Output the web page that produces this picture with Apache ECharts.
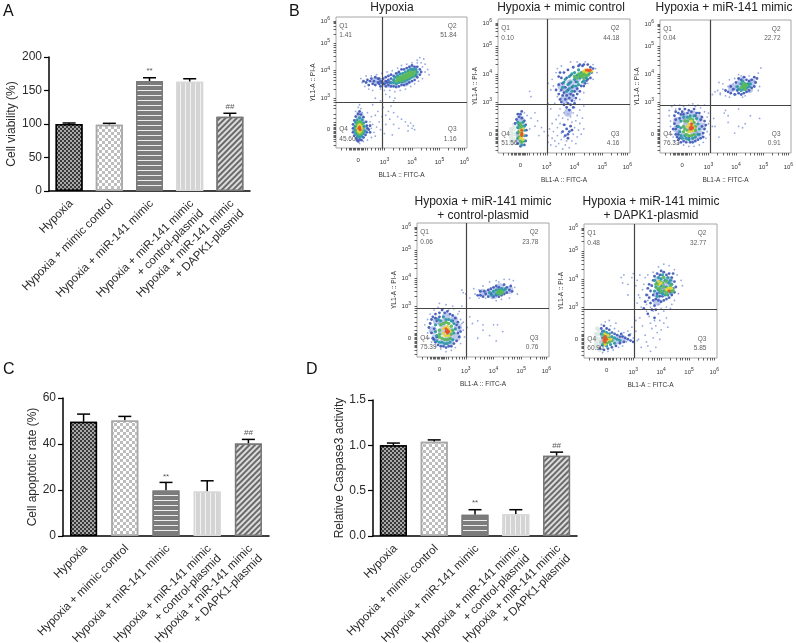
<!DOCTYPE html>
<html><head><meta charset="utf-8">
<style>html,body{margin:0;padding:0;background:#fff}#c{width:796px;height:643px}</style>
<script src="https://cdn.jsdelivr.net/npm/echarts@6/dist/echarts.min.js"></script>
</head><body><div id="c"></div>
<script>
// ---------- bar panels ----------
const categories = ['Hypoxia','Hypoxia + mimic control','Hypoxia + miR-141 mimic','Hypoxia + miR-141 mimic\n+ control-plasmid','Hypoxia + miR-141 mimic\n+ DAPK1-plasmid'];
const viabilityMeans = [100,99,164,163,111];
const viabilityTops = [101.5,101,169,167.5,116];
const viabilityMarks = [[2,179,'**'],[4,125,'##']];
const apoptosisMeans = [49.7,50.2,19.8,19.3,40.2];
const apoptosisTops = [53,52,23.3,24,42];
const apoptosisMarks = [[2,25.6,'**'],[4,44.8,'##']];
const caspaseMeans = [1.0,1.04,0.235,0.24,0.885];
const caspaseTops = [1.025,1.06,0.29,0.29,0.925];
const caspaseMarks = [[2,0.364,'**'],[4,1.0,'##']];

// ---------- flow panels: dots, [FITC channel, PI channel], by density layer ----------
const hypoxiaDots = [
 [[40,49],[45,50],[50,52],[55,54],[60,57],[48,55],[53,50],[58,60],[35,50],[30,51],[18,10],[17,15],[19,20],[18,25],[21,14],[15,14]],
 [],
 [[20,50],[19,53],[22,47],[23,55],[25,45],[27,55],[28,44],[31,56],[34,45],[35,57],[37,44],[39,58],[41,44],[43,59],[45,43],[47,61],[49,44],[50,63],[53,45],[54,64],[57,47],[58,65],[60,49],[62,65],[63,51],[65,65],[66,53],[66,62],[68,58],[68,64],[70,60],[67,68],[64,69],[71,56],[62,67],[30,38],[34,36],[41,39],[38,41],[28,33],[45,38],[44,36],[36,31],[42,32],[38,25],[40,28],[44,27],[47,24],[50,22],[41,22],[38,18],[44,18],[48,15],[55,17],[58,15],[60,14],[57,19],[55,13],[53,20],[59,17],[37,11],[43,10],[30,25],[27,24],[17,31],[19,30],[18,33],[20,27],[15,28],[27,15],[28,18],[29,12],[31,16],[30,9],[27,8],[24,6],[21,5],[18,3.5],[33,20],[34,14],[26,20],[24,27],[32,28],[35,24]],
 [[21,51],[23,50],[24,52],[25,48],[26,51],[27,53],[28,49],[29,51],[30,54],[30,48],[32,50],[33,53],[34,47],[35,50],[36,49],[38,47],[38,51],[38,54],[40,48],[40,52],[40,55],[42,47],[42,53],[42,56],[44,47],[44,55],[46,46.5],[46,57],[48,47],[48,58],[50,48],[50,60],[52,48],[52,60],[54,49],[54,61],[56,50],[56,62],[58,51],[58,63],[60,52],[60,62],[62,54],[62,62],[64,56],[64,60],[65,58],[36,53],[34,51],[33,49],[32,53],[37,49],[39,50],[41,50],[17,26],[19,25.5],[18,28],[15,24],[21,23.5],[14,21],[23,20],[13,18],[23.5,17],[13,15],[24,15],[13,12],[23.5,12],[14,9.5],[22.5,10],[15.5,7.5],[21,8],[18,6.5],[17,5],[19.5,6],[16,6],[25,14],[26,17],[26,12]],
 [[42,50],[44,50],[44,52],[45,54],[47,55],[49,56.5],[51,57],[53,58],[55,59],[57,60],[59,60],[61,60],[62,58],[61,56],[46,49],[48,50],[50,50.5],[52,51],[54,52],[56,53],[58,54],[60,55],[18,23],[16,21.5],[20,21.5],[15,19.5],[21,19],[14.5,16.5],[21.5,16.5],[14.5,13.5],[22,13],[15,11],[21,11],[16.5,9],[19.5,9],[18,8.5]],
 [[46,51],[48,52],[50,53],[52,54],[54,55],[56,56],[58,57],[60,58],[47,53],[49,54],[51,55],[53,56],[55,57],[57,58],[49,51.5],[51,52],[53,53],[55,54],[57,55],[59,56],[18,20],[17,19.5],[19,19.5],[16,18],[20,18],[15.5,15],[20.5,15],[16,12.5],[20,12.5],[18,10.5],[17,11],[19,11]],
 [[18,18],[17,17],[19,17],[19,13],[17,13],[18,12],[19.5,15],[16.5,15]],
 [[18,15],[18.5,14],[18,16],[17.5,15]]
];
const mimicControlDots = [
 [[50,40],[52,46],[55,52],[58,48],[60,56],[65,58],[55,42],[48,50],[53,30],[16,14],[17,20],[16,9],[17,25]],
 [[10,9],[10,12],[10,15],[10,18],[11,7],[12,10],[12,14],[12,18],[12,21]],
 [[25,42],[24,46],[38,37],[20,30],[22,28],[25,26],[28,30],[30,24],[33,19],[35,16],[28,20],[31,13],[24,18],[38,8],[38,13],[39,18],[40,6],[41,22],[41,11],[42,16],[43,9],[44,25],[44,5],[45,19],[45,13],[46,28],[46,7],[47,22],[47,33],[48,15],[48,10],[49,26],[49,3],[50,30],[50,12],[51,6],[51,21],[52,34],[52,9],[53,25],[53,29],[54,4],[55,32],[55,27],[56,9],[56,23],[57,14],[57,30],[58,19],[58,34],[59,24],[59,7],[60,28],[60,12],[61,17],[62,32],[62,22],[63,14],[64,26],[65,35],[65,18],[40,33],[43,37],[45,42],[47,46],[42,50],[41,55],[40,47],[38,52],[44,60],[45,63],[48,65],[55,68],[60,68],[66,68],[72,66],[74,63],[75,60],[72,55],[68,52],[65,45],[62,40],[58,39],[52,38],[48,41]],
 [[44,47],[46,44],[46,51],[47,40],[48,38],[48,47],[48,56],[49,43],[49,52],[50,36],[50,45],[50,60],[51,40],[51,49],[52,34],[52,43],[52,56],[53,37],[53,47],[53,62],[54,32],[54,41],[54,52],[55,36],[55,44],[55,58],[56,39],[56,49],[57,34],[57,43],[57,64],[58,37],[58,46],[59,41],[59,53],[60,44],[60,48],[61,65],[62,46],[63,50],[64,65],[65,50],[66,52],[67,54],[68,55],[70,56],[71,60],[72,63],[70,64],[68,66],[65,66],[62,66],[46,57],[47,60],[50,21],[52,18],[53,14],[54,16],[55,20],[51,13],[56,17],[53,11],[49,16],[16,27],[14,25],[18,26],[13,22],[20,24],[21,21],[21.5,17],[21.5,13],[21,9],[20,6],[17,5],[15,7],[17,29],[15,29],[18,31]],
 [[49,49],[50,53],[51,55],[52,46],[53,51],[54,48],[54,57],[55,53],[56,46],[57,50],[56,59],[58,55],[58,60],[59,50],[60,58],[60,53],[61,51],[61,62],[62,56],[63,60],[64,53],[65,54],[66,61],[67,56],[69,59],[15,23],[16,21],[19,23],[20,20],[20,17],[20,13],[20,9],[18,6],[15,11],[15,15],[15,19],[70,61]],
 [[58,57],[60,56],[61,59],[62,58],[63,57],[64,58],[65,59],[66,58],[65,56],[67,59],[68,58],[64,60],[69,61],[67,61],[17,22],[18,20],[17,19],[18,8],[17,9],[16,12],[16,16]],
 [[65,61],[66,62],[68,61],[69,62],[71,61],[67,60],[17,17],[18,16],[17,14],[18,12],[17,11],[19,18],[19,14],[19,10]],
 [[68,62],[69,61.5],[70,62],[67,62],[18,14],[18,15],[18,13],[18,17]]
];
const mir141Dots = [
 [[55,49],[60,50],[65,50],[70,53],[62,54],[68,48],[15,14],[20,12],[25,11],[30,14],[32,20],[30,26],[25,29],[18,28],[13,24],[13,18],[20,20],[26,20],[20,25],[26,16]],
 [],
 [[40,20],[45,12],[52,23],[57,15],[60,20],[38,24],[65,22],[40,44],[42,46],[44,47],[46,45],[48,48],[46,44],[50,43],[52,50],[53,42],[55,47],[57,56],[60,59],[62,58],[65,57],[68,58],[72,54],[75,60],[77,64],[76,50],[75,47],[65,43],[63,42],[58,44],[56,52],[53,55],[48,52],[45,53],[37,30],[41,26],[38,14],[42,20],[50,32],[49,30],[52,28],[60,33],[69,28],[76,26],[63,19],[7,32],[9,35],[12,33],[15,36],[18,35],[22,36],[27,35],[31,34],[34,31],[36,27],[37,22],[36,16],[35,11],[33,8],[30,6],[26,5],[22,5],[18,6],[14,7],[11,9],[10,12],[9,14],[8,20],[8,24],[7,28],[11,36],[25,37],[29,36],[34,36]],
 [[10,18],[11,22],[11,28],[12,14],[12,25],[12,31],[13,12],[13,20],[14,30],[14,10],[15,33],[16,8],[17,31],[18,9],[19,33],[20,8],[21,30],[22,32],[23,8],[24,31],[25,8],[26,33],[27,9],[28,30],[29,10],[30,30],[31,11],[32,27],[33,12],[34,24],[34,18],[35,21],[33,15],[50,47],[52,46],[54,45],[54,50],[56,48],[57,44],[58,53],[59,47],[60,45],[60,56],[62,44],[62,55],[64,45],[66,46],[66,55],[68,47],[68,54],[70,49],[70,55],[72,50],[72,57],[73,53],[74,56],[64,57],[12,18],[14,14],[15,11],[15,26],[16,29],[32,20],[31,25],[30,14],[27,28],[22,11],[18,29]],
 [[15,16],[16,13],[16,19],[16,24],[17,11],[18,27],[19,13],[20,11],[21,27],[22,10],[23,28],[25,11],[26,28],[27,12],[28,26],[29,14],[29,22],[30,18],[59,50],[60,48],[62,47],[62,52],[64,48],[65,52],[66,49],[67,52],[68,50],[69,52],[63,54],[14,20]],
 [[18,16],[18,20],[19,24],[20,14],[21,24],[21,17],[22,13],[23,26],[24,13],[25,25],[26,14],[26,23],[27,17],[27,20],[62,49],[63,50],[64,50],[65,50],[65,48],[66,51],[64,52],[19,18]],
 [[21,20],[22,16],[22,22],[23,16],[24,24],[25,17],[25,21],[26,19],[23,21]],
 [[23,19],[24,20],[24,18],[25,19],[24,22],[23,18]]
];
const controlPlasmidDots = [
 [[50,48],[55,48],[60,49],[65,49],[70,50],[58,46],[63,52],[14,14],[20,11],[25,11],[30,15],[31,22],[28,28],[22,30],[15,27],[12,20],[19,19],[25,19],[19,25],[24,15]],
 [],
 [[38,22],[46,14],[50,20],[55,16],[60,12],[34,25],[42,25],[34,50],[35,48],[37,47],[40,44],[43,51],[44,47],[47,44],[50,53],[52,44],[55,56],[57,44],[60,57],[62,56],[66,58],[70,58],[73,57],[74,52],[76,47],[70,44],[64,43],[60,42],[50,49],[47,50],[34,38],[32,34],[35,26],[40,30],[46,27],[50,24],[58,24],[61,24],[65,19],[6,24],[8,28],[10,32],[13,35],[16,37],[20,36],[24,35],[28,36],[31,32],[33,28],[35,20],[36,15],[33,10],[29,7],[26,5],[22,4],[18,6],[14,8],[11,11],[9,14],[8,18],[17,40],[22,39],[27,38]],
 [[9,22],[10,25],[11,18],[11,28],[12,14],[12,30],[13,21],[14,11],[14,32],[15,27],[16,9],[17,33],[18,8],[19,35],[20,8],[21,33],[22,7],[23,34],[24,8],[25,32],[26,8],[27,31],[28,10],[29,29],[30,12],[31,26],[32,15],[32,22],[33,19],[46,46],[48,46],[48,49],[50,45],[51,49],[52,47],[54,45],[54,50],[56,47],[56,51],[58,45],[58,52],[60,46],[60,53],[62,45],[62,52],[64,46],[66,47],[66,54],[68,48],[68,52],[70,50],[71,53],[72,49],[13,13],[14,29],[15,15],[31,18],[30,24],[17,30],[27,27]],
 [[14,19],[14,24],[15,12],[16,28],[17,11],[18,27],[19,11],[20,30],[21,10],[22,28],[23,10],[24,28],[25,11],[26,27],[27,13],[28,25],[28,18],[29,21],[55,48],[57,46],[58,49],[60,47],[60,50],[62,47],[62,50],[64,48],[64,51],[66,50],[67,51],[15,16]],
 [[17,15],[17,20],[18,24],[19,14],[20,25],[21,13],[22,26],[23,13],[24,25],[25,14],[26,23],[26,17],[27,20],[61,48],[62,49],[63,49],[64,49],[65,48],[63,47],[17,17]],
 [[20,18],[21,16],[21,22],[22,16],[23,23],[24,16],[24,21],[25,19],[20,21]],
 [[22,19],[23,19],[23,18],[24,19],[23,20],[22,21]]
];
const dapkPlasmidDots = [
 [[55,48],[58,54],[62,56],[65,50],[60,50],[56,58],[64,58],[55,42],[14,11],[15,17],[19,14],[24,13],[29,14]],
 [[9,9],[9,12],[9,15],[9,18],[10,7],[11,10],[11,14],[11,18],[11,21],[12,6],[10,22]],
 [[28,60],[29,56],[30,62],[33,47],[36,60],[39,54],[37,63],[40,58],[42,62],[33,55],[40,41],[41,47],[42,45],[43,38],[44,51],[45,55],[46,60],[48,62],[47,35],[48,43],[49,31],[50,38],[50,26],[51,22],[52,35],[53,28],[54,24],[55,19],[56,40],[56,33],[57,28],[57,14],[58,37],[58,21],[60,26],[60,35],[62,30],[63,23],[65,37],[42,30],[44,24],[46,17],[47,12],[41,14],[39,20],[43,8],[48,9],[52,15],[54,8],[50,5],[39,28],[52,64],[56,68],[60,70],[64,69],[68,66],[70,62],[73,58],[74,54],[71,48],[68,43],[66,40],[62,38],[48,47],[47,40],[13,25],[16,27],[20,24],[23,22],[26,20],[30,19],[33,20],[35,18],[37,15],[40,13],[32,12],[29,9],[26,8],[22,6],[18,5],[14,4],[24,26],[19,28],[36,23]],
 [[13,22],[14,20],[15,24],[17,22],[19,21],[21,19],[23,18],[25,17],[27,16],[29,16],[31,15],[33,14],[35,13],[37,12],[30,12],[27,11],[24,9],[21,8],[18,7],[15,6],[12,7],[34,17],[28,18],[45,37],[46,42],[47,47],[48,33],[49,45],[50,41],[50,50],[51,36],[51,54],[52,43],[52,47],[52,58],[53,39],[53,61],[54,44],[54,36],[55,48],[55,63],[56,43],[57,46],[57,62],[58,42],[58,65],[59,46],[60,43],[60,64],[62,44],[62,62],[64,45],[64,63],[66,47],[66,60],[68,49],[68,57],[69,53],[67,63],[49,55],[48,52],[53,30]],
 [[13,18],[14,15],[14,10],[15,20],[17,19],[19,18],[21,16],[23,15],[25,14],[27,13],[23,11],[20,10],[17,9],[53,50],[54,53],[55,46],[55,56],[56,60],[56,51],[57,49],[58,54],[58,59],[59,48],[59,62],[60,50],[61,58],[61,47],[62,53],[63,60],[63,47],[64,56],[65,58],[65,49],[66,55],[67,52],[53,58]],
 [[15,11],[15,17],[16,13],[17,16],[17,11],[19,15],[19,12],[21,13],[54,55],[55,52],[56,55],[57,52],[57,57],[58,50],[59,56],[60,53],[60,60],[61,50],[62,48],[62,57],[63,50],[65,51],[66,50],[65,54],[67,50]],
 [[15,14],[16,18],[17,13],[18,14],[16,10],[18,17],[20,14],[56,57],[57,55],[58,56],[62,51],[63,52],[64,52],[65,52],[66,52]],
 [[16,14],[16,12],[16,16],[17,14],[15,13],[15,15],[64,50]]
];
const flowTitles = ['Hypoxia','Hypoxia + mimic control','Hypoxia + miR-141 mimic','Hypoxia + miR-141 mimic\n+ control-plasmid','Hypoxia + miR-141 mimic\n+ DAPK1-plasmid'];
const flowDots = [hypoxiaDots,mimicControlDots,mir141Dots,controlPlasmidDots,dapkPlasmidDots];
const gateX = [35,37,38,37,37.5];
const gateY = [35,36.5,36,36.5,36.5];
const q1Values = ['1.41','0.10','0.04','0.06','0.48'];
const q2Values = ['51.84','44.18','22.72','23.78','32.77'];
const q3Values = ['1.16','4.16','0.91','0.76','5.85'];
const q4Values = ['45.60','51.56','76.33','75.39','60.90'];
const xTickChannels = [17,37,58,79,98];
const yTickChannels = [14,38,59,80,97];
const decadeLabels = ['0','{n|10}{e|3}','{n|10}{e|4}','{n|10}{e|5}','{n|10}{e|6}'];
const xMinorChannels = [4,8,10,11,12,13,14,15,16,17,18,19,20,21,22,24,27,30,32,34,35.5,37,44,48,51,53,55,56.5,58,65,69,72,74,76,77.5,79,86,90,93,95,96.5,98];
const yMinorChannels = [2,5,7,8,9,10,11,12,13,14,15,16,17,18,20,23,26,30,33,35,36.5,38,45,49,52,54,56,57.5,59,66,70,73,75,77,78.5,80,87,91,93,95,96,97];

// ---------- layout ----------
const FONT = '"Liberation Sans", Arial, sans-serif';
const INK = '#2b2b2b';
const barPanels = [
 {grid:{left:49,top:57,width:201,height:134},means:viabilityMeans,tops:viabilityTops,marks:viabilityMarks,max:200,step:50,name:'Cell viability (%)',gap:30,fmt:v=>v},
 {grid:{left:63,top:398,width:206,height:138},means:apoptosisMeans,tops:apoptosisTops,marks:apoptosisMarks,max:60,step:20,name:'Cell apoptotic rate (%)',gap:23,fmt:v=>v},
 {grid:{left:373,top:400,width:204,height:136},means:caspaseMeans,tops:caspaseTops,marks:caspaseMarks,max:1.5,step:0.5,name:'Relative Caspase3 activity',gap:26,fmt:v=>v.toFixed(1)}
];
const flowGrids = [
 {left:336,top:17,width:131,height:131},
 {left:498,top:19,width:132,height:134},
 {left:660,top:20,width:131,height:133},
 {left:417,top:223,width:132,height:134},
 {left:584,top:224,width:133,height:134}
];
const titleAnchors = [[392,1],[561,1],[724,1],[483,195],[651,195]];
const barStyles = [
 {color:'#3a3a3a',borderColor:'#000',decal:{symbol:'rect',symbolSize:1,dashArrayX:[[2,2],[0,2,2,0]],dashArrayY:[2,0],color:'#a8a8a8'}},
 {color:'#ffffff',borderColor:'#a8a8a8',decal:{symbol:'rect',symbolSize:1,dashArrayX:[[3,3],[0,3,3,0]],dashArrayY:[3,0],color:'#bdbdbd'}},
 {color:'#7c7c7c',borderColor:'#7a7a7a',decal:{symbol:'rect',symbolSize:1,dashArrayX:[1,0],dashArrayY:[1,4],color:'#eeeeee'}},
 {color:'#d4d4d4',borderColor:'#d8d8d8',decal:{symbol:'rect',symbolSize:1,dashArrayX:[1,4],dashArrayY:[1,0],color:'#f2f2f2'}},
 {color:'#6a6a6a',borderColor:'#777',decal:{symbol:'rect',symbolSize:1,rotation:-Math.PI/4,dashArrayX:[1,0],dashArrayY:[1.1,1.7],color:'#dcdcdc'}}
];
const dotLayers = [
 {size:8,color:'#6f86d4',opacity:0.45},{size:4.5,color:'#dde7e2',opacity:0.85},{size:1.8,color:'#8a9edb',opacity:0.9},{size:2.8,color:'#3a55b6',opacity:0.9},
 {size:3.2,color:'#2a9aa6',opacity:0.95},{size:3.5,color:'#58b95a',opacity:0.95},{size:3,color:'#e6d53a',opacity:0.95},{size:3,color:'#e4552c',opacity:0.95}
];

const grids=[],xAxes=[],yAxes=[],series=[],titles=[];
const letters=[['A',3,4],['B',289,4],['C',3,362],['D',306,362]];
letters.forEach(l=>titles.push({text:l[0],left:l[1],top:l[2],padding:0,textStyle:{fontFamily:FONT,fontSize:16,fontWeight:'normal',color:'#111'}}));

barPanels.forEach(p=>{
  const i=grids.length;
  grids.push({...p.grid,outerBoundsMode:'none'});
  xAxes.push({gridIndex:i,type:'category',data:categories,
    axisLine:{lineStyle:{color:'#000',width:1.5}},axisTick:{alignWithLabel:true,length:4,lineStyle:{color:'#000',width:1.2}},
    axisLabel:{rotate:45,interval:0,margin:3,padding:[0,4,0,0],fontFamily:FONT,fontSize:11.6,color:INK,lineHeight:14,align:'right',verticalAlign:'top'}});
  yAxes.push({gridIndex:i,type:'value',min:0,max:p.max,interval:p.step,name:p.name,nameLocation:'middle',nameGap:p.gap,
    nameTextStyle:{fontFamily:FONT,fontSize:12,color:INK},
    axisLine:{show:true,lineStyle:{color:'#000',width:1.5}},axisTick:{show:true,length:5,lineStyle:{color:'#000',width:1.2}},
    axisLabel:{fontFamily:FONT,fontSize:12,color:INK,margin:7,formatter:p.fmt},splitLine:{show:false}});
  series.push({type:'bar',xAxisIndex:i,yAxisIndex:i,barWidth:27,silent:true,animation:false,
    data:p.means.map((v,k)=>({value:v,itemStyle:{color:barStyles[k].color,borderColor:barStyles[k].borderColor,borderWidth:1.5,decal:barStyles[k].decal}}))});
  series.push({type:'custom',xAxisIndex:i,yAxisIndex:i,silent:true,animation:false,
    data:p.means.map((v,k)=>[k,v,p.tops[k]]),encode:{x:0,y:[1,2]},
    renderItem:(params,api)=>{
      const a=api.coord([api.value(0),api.value(1)]),b=api.coord([api.value(0),api.value(2)]);
      const st={stroke:'#000',lineWidth:1.5};
      return {type:'group',children:[
        {type:'line',shape:{x1:a[0],y1:a[1],x2:b[0],y2:b[1]},style:st},
        {type:'line',shape:{x1:a[0]-6.5,y1:b[1],x2:a[0]+6.5,y2:b[1]},style:st}]};
    }});
  series.push({type:'scatter',xAxisIndex:i,yAxisIndex:i,symbolSize:0,silent:true,animation:false,data:p.marks,
    label:{show:true,position:'inside',formatter:d=>d.value[2],fontFamily:FONT,fontSize:8,color:INK}});
});

flowGrids.forEach((g,n)=>{
  const i=grids.length;
  grids.push({...g,show:true,borderColor:'#a6a6a6',borderWidth:1,backgroundColor:'#fff',outerBoundsMode:'none'});
  xAxes.push({gridIndex:i,type:'value',min:0,max:100,name:'BL1-A :: FITC-A',nameLocation:'middle',nameGap:24,
    nameTextStyle:{fontFamily:FONT,fontSize:6.5,color:'#333'},
    axisLine:{show:false},splitLine:{show:false},
    axisTick:{show:true,length:2.5,customValues:xMinorChannels,lineStyle:{color:'#222',width:0.7}},
    axisLabel:{customValues:xTickChannels,margin:9,fontFamily:FONT,fontSize:6,color:'#333',
      formatter:(v,k)=>decadeLabels[xTickChannels.indexOf(v)],
      rich:{n:{fontSize:6,fontFamily:FONT,color:'#333'},e:{fontSize:5,fontFamily:FONT,color:'#333',padding:[0,0,5,0]}}}});
  yAxes.push({gridIndex:i,type:'value',min:0,max:100,name:'YL1-A :: PI-A',nameLocation:'middle',nameGap:17,
    nameTextStyle:{fontFamily:FONT,fontSize:6.5,color:'#333'},
    axisLine:{show:false},splitLine:{show:false},
    axisTick:{show:true,length:2.5,customValues:yMinorChannels,lineStyle:{color:'#222',width:0.7}},
    axisLabel:{customValues:yTickChannels,margin:6,fontFamily:FONT,fontSize:6,color:'#333',
      formatter:(v,k)=>decadeLabels[yTickChannels.indexOf(v)],
      rich:{n:{fontSize:6,fontFamily:FONT,color:'#333'},e:{fontSize:5,fontFamily:FONT,color:'#333',padding:[0,0,5,0]}}}});
  flowDots[n].forEach((pts,l)=>{
    if(!pts.length) return;
    series.push({type:'scatter',xAxisIndex:i,yAxisIndex:i,data:pts,symbolSize:dotLayers[l].size,silent:true,animation:false,
      itemStyle:{color:dotLayers[l].color,opacity:dotLayers[l].opacity},z:2+l*0.01});
  });
  const quad=[[2.5,93,'Q1','left'],[2.5,86,q1Values[n],'left'],[92,93,'Q2','right'],[92,86,q2Values[n],'right'],
              [2.5,14,'Q4','left'],[2.5,7,q4Values[n],'left'],[92,14,'Q3','right'],[92,7,q3Values[n],'right']];
  series.push({type:'scatter',xAxisIndex:i,yAxisIndex:i,symbolSize:0,silent:true,animation:false,z:6,
    data:quad.map(q=>({value:q.slice(0,3),label:{align:q[3]}})),
    label:{show:true,position:'inside',formatter:d=>d.value[2],fontFamily:FONT,fontSize:6.5,color:'#333'},
    markLine:{silent:true,symbol:'none',animation:false,label:{show:false},lineStyle:{color:'#444',width:1.2,type:'solid'},
      data:[{xAxis:gateX[n]},{yAxis:gateY[n]}]}});
  titles.push({text:flowTitles[n],left:titleAnchors[n][0],top:titleAnchors[n][1],padding:0,textAlign:'center',
    textStyle:{fontFamily:FONT,fontSize:12,fontWeight:'normal',color:'#222',lineHeight:13.5}});
});

echarts.init(document.getElementById('c'),null,{renderer:'canvas'}).setOption({
  animation:false,backgroundColor:'#fff',title:titles,grid:grids,xAxis:xAxes,yAxis:yAxes,series:series
});
</script></body></html>
